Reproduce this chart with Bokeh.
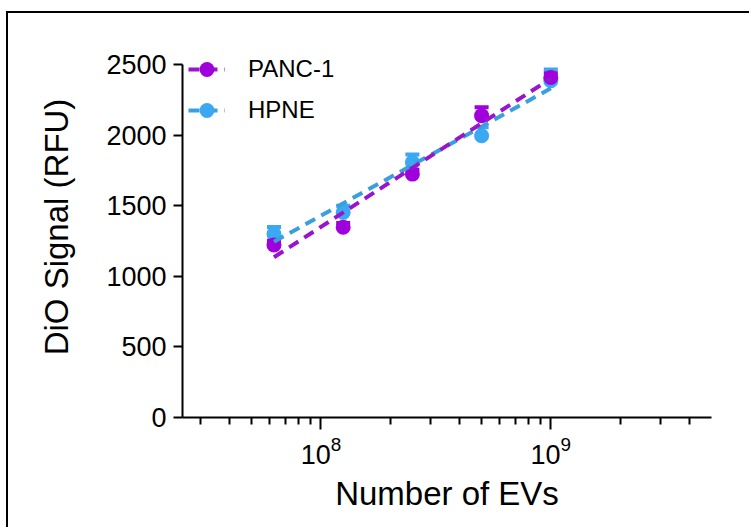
import numpy as np
from bokeh.plotting import figure
from bokeh.models import FixedTicker, Legend, LegendItem
from bokeh.embed import file_html
from bokeh.resources import INLINE

# ---- data ----
evs = [6.25e7, 1.25e8, 2.5e8, 5e8, 1e9]
panc1_mean = [1223, 1348, 1725, 2139, 2410]
panc1_err = [30, 30, 30, 59, 30]
hpne_mean = [1300, 1454, 1808, 1997, 2387]
hpne_err = [50, 47, 55, 60, 80]
series_names = ["PANC-1", "HPNE"]

x_ticks = [1e8, 1e9]
x_minor_ticks = [3e7, 4e7, 5e7, 6e7, 7e7, 8e7, 9e7,
                 2e8, 3e8, 4e8, 5e8, 6e8, 7e8, 8e8, 9e8,
                 2e9, 3e9, 4e9]
y_ticks = [0, 500, 1000, 1500, 2000, 2500]
x_limits = (2.5e7, 5e9)
y_axis_limits = (0, 2500)
y_view_limits = (0, 2700)   # extra head-room so the legend is not clipped

PURPLE = "#A000DC"
PURPLE_LINE = "#9A14CF"
BLUE = "#3AA8F3"
BLUE_LINE = "#3AA0DD"
FONT = "Liberation Sans"

# canvas origin at (8, 13); frame x 182..711, y(0)=417, y(2700)=36
p = figure(width=743, height=516, x_axis_type="log",
           x_range=x_limits, y_range=y_view_limits,
           output_backend="svg", toolbar_location=None,
           min_border_left=174, min_border_right=40,
           min_border_top=23, min_border_bottom=112)
p.styles = {"border-left": "2px solid black", "border-top": "2px solid black",
            "position": "relative", "top": "11px", "left": "6px"}
p.outline_line_color = None
p.grid.visible = False
p.background_fill_color = "white"
p.border_fill_color = "white"

def fit_line(means):
    lx = np.log10(evs)
    b, a = np.polyfit(lx, means, 1)
    xs = [min(evs), max(evs)]
    ys = [a + b * np.log10(v) for v in xs]
    return xs, ys

def draw_series(means, errs, color):
    upper = [m + e for m, e in zip(means, errs)]
    p.segment(x0=evs, y0=means, x1=evs, y1=upper, line_color=color, line_width=3)
    p.scatter(x=evs, y=upper, marker="dash", size=14, line_color=color, line_width=4)
    circ = p.scatter(x=evs, y=means, marker="circle", size=15,
                     fill_color=color, line_color=color, line_width=0)
    return circ

c_h = draw_series(hpne_mean, hpne_err, BLUE)
c_p = draw_series(panc1_mean, panc1_err, PURPLE)

xs, ys = fit_line(hpne_mean)
l_h = p.line(xs, ys, line_color=BLUE_LINE, line_width=4, line_dash="11 7")
xs, ys = fit_line(panc1_mean)
l_p = p.line(xs, ys, line_color=PURPLE_LINE, line_width=4, line_dash="11 7")

legend = Legend(items=[LegendItem(label=series_names[0], renderers=[l_p, c_p]),
                       LegendItem(label=series_names[1], renderers=[l_h, c_h])],
                location=(6, 288), margin=0, padding=0, spacing=3,
                glyph_width=37, glyph_height=38, label_height=38,
                label_standoff=23, label_text_font=FONT,
                label_text_font_size="24px", label_text_color="black",
                border_line_color=None, background_fill_alpha=0)
p.add_layout(legend)

# axes
for ax in (p.xaxis[0], p.yaxis[0]):
    ax.axis_line_width = 2
    ax.axis_line_color = "black"
    ax.major_tick_line_width = 2
    ax.major_tick_line_color = "black"
    ax.minor_tick_line_width = 2
    ax.minor_tick_line_color = "black"
    ax.major_tick_in = 0
    ax.minor_tick_in = 0
    ax.major_label_text_font = FONT
    ax.major_label_text_font_size = "27px"
    ax.major_label_text_color = "black"
    ax.axis_label_text_font = FONT
    ax.axis_label_text_font_size = "33px"
    ax.axis_label_text_font_style = "normal"
    ax.axis_label_text_color = "black"

p.xaxis.ticker = FixedTicker(ticks=x_ticks, minor_ticks=x_minor_ticks)
p.xaxis.major_tick_out = 12
p.xaxis.minor_tick_out = 7
p.xaxis.major_label_standoff = 6
p.xaxis.axis_label = "Number of EVs"
p.xaxis.axis_label_standoff = 8

p.yaxis.ticker = FixedTicker(ticks=y_ticks, minor_ticks=[])
p.yaxis.bounds = y_axis_limits
p.yaxis.major_tick_out = 9
p.yaxis.minor_tick_out = 0
p.yaxis.major_label_standoff = 7
p.yaxis.axis_label = "DiO Signal (RFU)"
p.yaxis.axis_label_standoff = 28

open("out.html", "w").write(file_html(p, INLINE))
